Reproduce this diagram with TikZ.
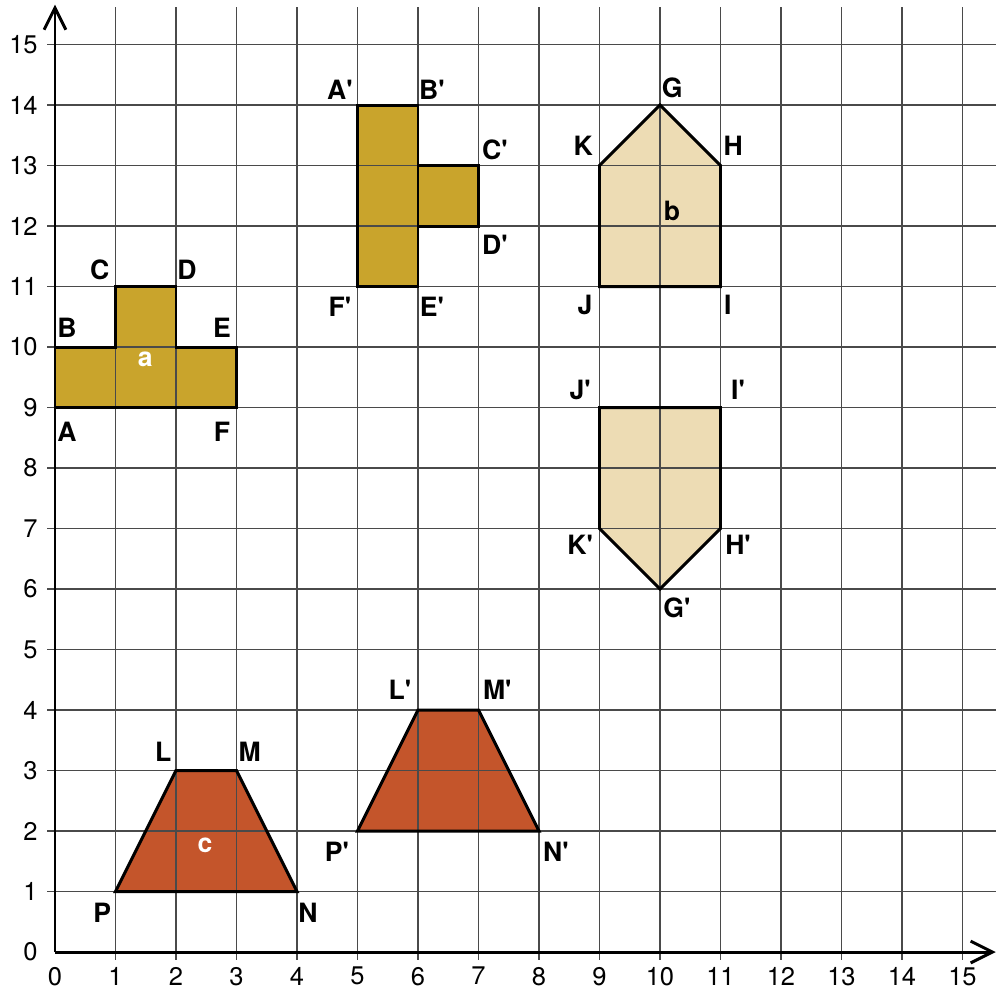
\documentclass[tikz,border=0pt]{standalone}
\usepackage{fontspec}
\setmainfont{TeX Gyre Heros}
\usepackage{tikz}
\usepackage{xcolor}
\usetikzlibrary{arrows.meta, calc}
\definecolor{ShapeGold}{HTML}{C9A42C}
\definecolor{ShapeSand}{HTML}{EDDCB4}
\definecolor{ShapeBrick}{HTML}{C4552B}
\definecolor{GridGrey}{HTML}{4A4A4A}
\newcommand{\pr}{\textquotesingle}

\tikzset{
  gridline/.style={GridGrey, line width=0.6pt},
  axisline/.style={line width=1.4pt, -{Straight Barb[length=3.6mm, width=3.6mm, line width=1.4pt]}},
  outline/.style={line width=1.4pt, line join=miter},
  vlabel/.style={font=\fontsize{12.5}{14}\selectfont\bfseries, inner sep=0pt},
  tlabel/.style={font=\fontsize{12}{14}\selectfont, inner sep=0pt}
}

\begin{document}
\begin{tikzpicture}
\useasboundingbox (-0.909,-0.678) rectangle (15.554,15.736);
% --- Fills first, so the grid shows through ---
\fill[ShapeGold] (0,9) -- (0,10) -- (1,10) -- (1,11) -- (2,11) -- (2,10) -- (3,10) -- (3,9) -- cycle;
\fill[ShapeGold] (5,14) -- (6,14) -- (6,13) -- (7,13) -- (7,12) -- (6,12) -- (6,11) -- (5,11) -- cycle;
\fill[ShapeSand] (9,11) -- (11,11) -- (11,13) -- (10,14) -- (9,13) -- cycle;
\fill[ShapeSand] (9,9) -- (11,9) -- (11,7) -- (10,6) -- (9,7) -- cycle;
\fill[ShapeBrick] (1,1) -- (4,1) -- (3,3) -- (2,3) -- cycle;
\fill[ShapeBrick] (5,2) -- (8,2) -- (7,4) -- (6,4) -- cycle;
% --- Grid ---
\foreach \i in {1,...,15} {
  \draw[gridline] (\i,-0.13) -- (\i,15.62);
  \draw[gridline] (-0.13,\i) -- (15.56,\i);
}
% --- Outlines ---
\draw[outline] (0,9) -- (0,10) -- (1,10) -- (1,11) -- (2,11) -- (2,10) -- (3,10) -- (3,9) -- cycle;
\draw[outline] (5,14) -- (6,14) -- (6,13) -- (7,13) -- (7,12) -- (6,12) -- (6,11) -- (5,11) -- cycle;
\draw[outline] (6,12) -- (6,13);
\draw[outline] (9,11) -- (11,11) -- (11,13) -- (10,14) -- (9,13) -- cycle;
\draw[outline] (9,9) -- (11,9) -- (11,7) -- (10,6) -- (9,7) -- cycle;
\draw[outline] (1,1) -- (4,1) -- (3,3) -- (2,3) -- cycle;
\draw[outline] (5,2) -- (8,2) -- (7,4) -- (6,4) -- cycle;
% --- Axes ---
\draw[axisline] (0,0) -- (15.55,0);
\draw[axisline] (0,0) -- (0,15.66);
\foreach \i in {0,...,15} {
  \node[tlabel, anchor=north] at (\i,-0.24) {\i};
  \node[tlabel, anchor=east] at (-0.28,\i) {\i};
}
% --- Vertex labels ---
\node[vlabel] at (0.2,8.6) {A};
\node[vlabel] at (0.2,10.31) {B};
\node[vlabel] at (0.74,11.27) {C};
\node[vlabel] at (2.18,11.27) {D};
\node[vlabel] at (2.76,10.31) {E};
\node[vlabel] at (2.76,8.6) {F};
\node[vlabel, white] at (1.49,9.79) {a};
\node[vlabel] at (4.71,14.25) {A\pr};
\node[vlabel] at (6.23,14.25) {B\pr};
\node[vlabel] at (7.27,13.26) {C\pr};
\node[vlabel] at (7.27,11.69) {D\pr};
\node[vlabel] at (6.23,10.66) {E\pr};
\node[vlabel] at (4.71,10.66) {F\pr};
\node[vlabel] at (10.2,14.28) {G};
\node[vlabel] at (11.21,13.32) {H};
\node[vlabel] at (11.12,10.69) {I};
\node[vlabel] at (8.76,10.69) {J};
\node[vlabel] at (8.73,13.32) {K};
\node[vlabel] at (10.2,12.25) {b};
\node[vlabel] at (10.28,5.69) {G\pr};
\node[vlabel] at (11.29,6.73) {H\pr};
\node[vlabel] at (11.29,9.29) {I\pr};
\node[vlabel] at (8.68,9.29) {J\pr};
\node[vlabel] at (8.68,6.73) {K\pr};
\node[vlabel] at (1.79,3.31) {L};
\node[vlabel] at (3.22,3.31) {M};
\node[vlabel] at (4.18,0.64) {N};
\node[vlabel] at (0.78,0.64) {P};
\node[vlabel, white] at (2.48,1.77) {c};
\node[vlabel] at (5.70,4.33) {L\pr};
\node[vlabel] at (7.31,4.33) {M\pr};
\node[vlabel] at (8.28,1.65) {N\pr};
\node[vlabel] at (4.66,1.65) {P\pr};
\end{tikzpicture}
\end{document}
